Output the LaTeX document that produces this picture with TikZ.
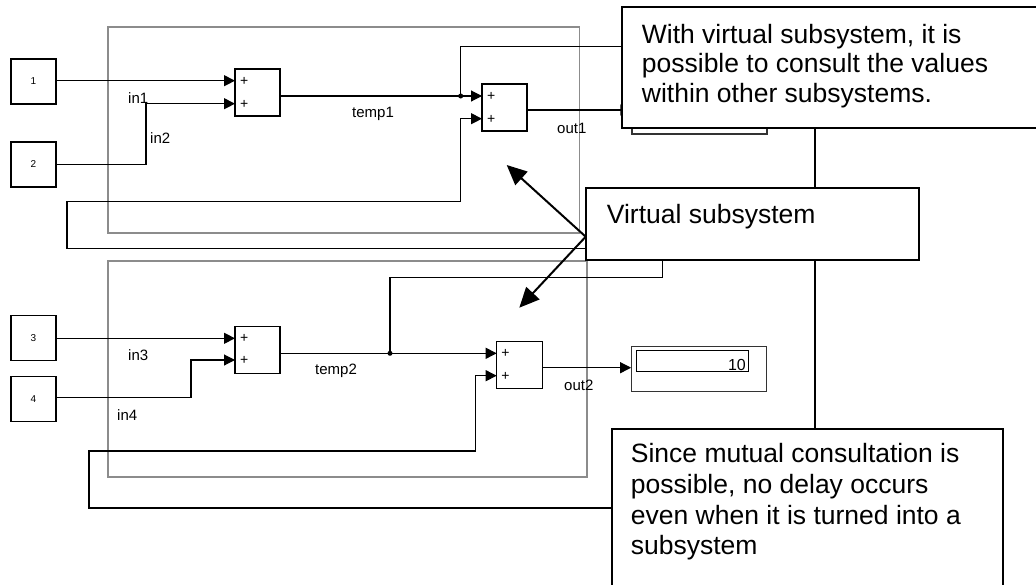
\documentclass[tikz,border=0pt]{standalone}
\usepackage{fontspec}
\setmainfont{Liberation Sans}
\usetikzlibrary{arrows.meta,calc}
\begin{document}
\begin{tikzpicture}[x=1pt,y=-1pt,
  blk/.style={draw,line width=1.1pt,minimum width=45pt,minimum height=45pt,inner sep=0pt,font=\fontsize{10}{10}\selectfont},
  sum/.style={draw,line width=1.1pt,minimum width=45pt,minimum height=47pt,inner sep=0pt},
  wire/.style={line width=1.1pt},
  sig/.style={wire,-{Triangle[length=11pt,width=11pt]}},
  grp/.style={draw=black!45,line width=1.1pt,inner sep=0pt},
  note/.style={draw,line width=2pt,fill=white,inner sep=0pt},
  notetxt/.style={anchor=base west,inner sep=0pt,font=\fontsize{26.5}{30}\selectfont},
  lbl/.style={anchor=base west,inner sep=0pt,font=\fontsize{15}{15}\selectfont},
  plus/.style={inner sep=0pt,font=\fontsize{14}{14}\selectfont},
  callout/.style={line width=2pt,-{Triangle[length=20pt,width=18pt]}},
  dot/.style={circle,fill,inner sep=0pt,minimum size=5pt},
  disp/.style={draw=black!80,line width=1.1pt,fill=white,minimum width=135pt,minimum height=46pt,inner sep=0pt},
  field/.style={draw,line width=1.1pt,minimum width=111.6pt,minimum height=21.7pt,inner sep=0pt},
]
\useasboundingbox (0,0) rectangle (1036,584);
\clip (0,0) rectangle (1036,584);

% subsystem frames
\node[grp,minimum width=471.5pt,minimum height=206pt] (g1) at (343.75,130) {};
\node[grp,minimum width=479pt,minimum height=216pt] (g2) at (347.5,369) {};

% blocks
\node[blk] (b1) at (33.5,81.5) {1};
\node[blk] (b2) at (33.5,164.5) {2};
\node[blk] (b3) at (33.5,338.3) {3};
\node[blk] (b4) at (33.5,399.2) {4};
\node[sum] (a1) at (257.5,92.5) {};
\node[sum] (a2) at (504.5,107.5) {};
\node[sum,minimum height=46.6pt] (a3) at (257.5,350) {};
\node[sum,minimum width=45.6pt] (a4) at (519.5,364.7) {};
\foreach \n/\x/\ya/\yb in {p1/244.3/81.3/104, p2/491.3/96.3/119, p3/244.3/338.6/360.6, p4/505.5/353.6/376.3}{
  \node[plus] (\n a) at (\x,\ya) {+};
  \node[plus] (\n b) at (\x,\yb) {+};
}

% displays
\node[disp] (d1) at (699.5,111) {};
\node[field] (f1) at (692.8,103) {};
\node[disp,minimum height=45.7pt] (d2) at (699.2,368.9) {};
\node[field] (f2) at (692.5,360.9) {};
\node[anchor=base east,inner sep=0pt,font=\fontsize{16}{16}\selectfont] (v2) at (746,370) {10};

% port coordinates
\coordinate (a1i1) at (235,80.7);
\coordinate (a1i2) at (235,103.7);
\coordinate (a2i1) at (482,96);
\coordinate (a2i2) at (482,118.7);
\coordinate (a3i1) at (235,338.3);
\coordinate (a3i2) at (235,360);
\coordinate (a4i1) at (496.7,353.3);
\coordinate (a4i2) at (496.7,375.7);

% wires upper
\draw[sig] (b1.east |- a1i1) -- (a1i1);
\draw[sig] (b2.east) -- (146,164.5) -- (146,103.7) -- (a1i2);
\draw[sig] (a1.east |- a2i1) -- (a2i1);
\node[dot] (j1) at (460.7,96) {};
\draw[sig] (a2.east |- 0,110) -- (d1.west |- 0,110);
\draw[sig] (585.7,248.7) -- (67,248.7) -- (67,201.7) -- (460.7,201.7) -- (460.7,118.7) -- (a2i2);

% wires lower
\draw[sig] (b3.east |- a3i1) -- (a3i1);
\draw[sig] (b4.east |- 0,397.7) -- (191,397.7) -- (191,360) -- (a3i2);
\draw[sig] (a3.east |- a4i1) -- (a4i1);
\node[dot] (j2) at (390,353.3) {};
\draw[sig] (a4.east |- 0,367.7) -- (d2.west |- 0,367.7);
\draw[sig] (611.7,508) -- (89,508) -- (89,451) -- (475.7,451) -- (475.7,375.7) -- (a4i2);

% labels
\node[lbl] (l1) at (128,103) {in1};
\node[lbl] (l2) at (150,143) {in2};
\node[lbl] (l3) at (352,117) {temp1};
\node[lbl] (l4) at (557,133) {out1};
\node[lbl] (l5) at (128,360) {in3};
\node[lbl] (l6) at (117,420) {in4};
\node[lbl] (l7) at (315,374) {temp2};
\node[lbl] (l8) at (564,390) {out2};

% annotation boxes
\node[note,minimum width=423.3pt,minimum height=121pt] (with) at (833.35,67.8) {};
\node[note,minimum width=333.6pt,minimum height=71.7pt] (virt) at (752.5,224.15) {};
\node[note,minimum width=391.3pt,minimum height=170.7pt] (since) at (807.35,514.65) {};

\node[notetxt] (w1) at (641.7,43.3) {With virtual subsystem, it is};
\node[notetxt] (w2) at (641.7,72.8) {possible to consult the values};
\node[notetxt] (w3) at (641.7,102.5) {within other subsystems.};
\node[notetxt] (vt) at (606.7,223.3) {Virtual subsystem};
\node[notetxt] (s1) at (630.7,462.7) {Since mutual consultation is};
\node[notetxt] (s2) at (630.7,493.5) {possible, no delay occurs};
\node[notetxt] (s3) at (630.7,524) {even when it is turned into a};
\node[notetxt] (s4) at (630.7,554) {subsystem};

% branches to annotation boxes
\draw[wire] (j1.center) -- (460.7,46.7) -- (with.west |- 0,46.7);
\draw[wire] (j2.center) -- (390,277.3) -- (662.7,277.3) -- (virt.south -| 662.7,0);
\coordinate (vl) at (815,0);
\draw[wire] (with.south -| vl) -- (virt.north -| vl);
\draw[wire] (virt.south -| vl) -- (since.north -| vl);

% callouts
\coordinate (cs) at (585.7,236.7);
\coordinate (t1) at (506.7,165);
\coordinate (t2) at (519.3,307.7);
\draw[callout] (cs) -- (t1);
\draw[callout] (cs) -- (t2);
\end{tikzpicture}
\end{document}
